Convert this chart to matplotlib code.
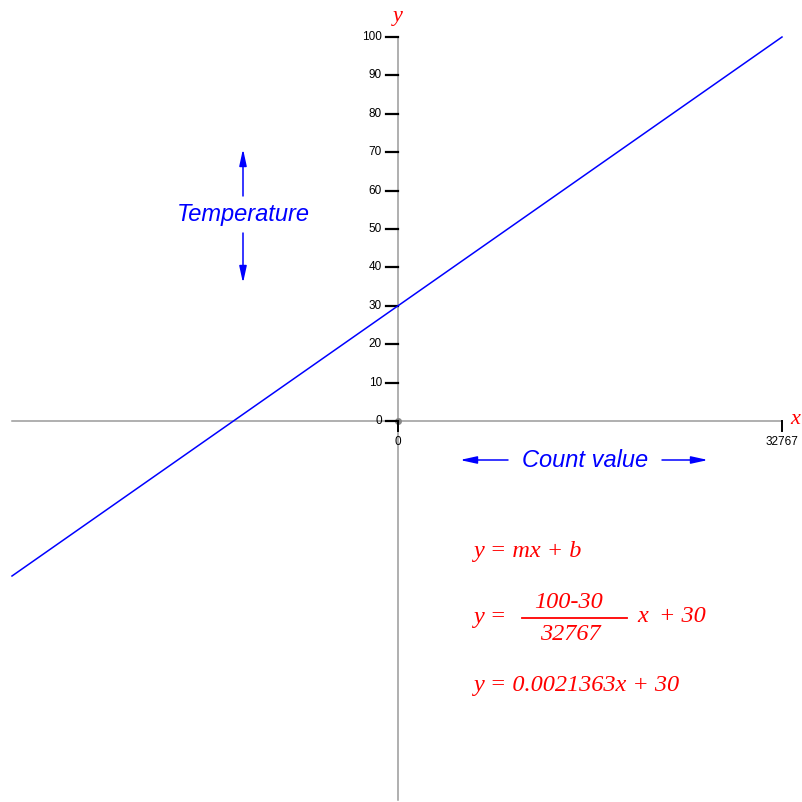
import numpy as np
import matplotlib
matplotlib.use("Agg")
import matplotlib.pyplot as plt

# data
x_max = 32767
y_lo, y_hi = 30, 100
slope = (y_hi - y_lo) / x_max
y_ticks = [0, 10, 20, 30, 40, 50, 60, 70, 80, 90, 100]
x_ticks = [0, 32767]
x_line = np.array([-32938, x_max])
y_line = slope * x_line + y_lo

W = 802
# pixel layout: origin at (398, 421), 384 px per x_max and per 100 units of y
ox, oy = 398, 421
sx = 384 / x_max
sy = 3.84

fig = plt.figure(figsize=(W / 100, W / 100), dpi=100)
ax = fig.add_axes([0, 0, 1, 1])
ax.set_xlim(-ox / sx, (W - ox) / sx)
ax.set_ylim((oy - W) / sy, oy / sy)
ax.axis("off")


def P(px, py):
    # pixel position -> data coordinates (for placing labels)
    return (px - ox) / sx, (oy - py) / sy


grey = "#9a9a9a"
# axes lines
ax.plot([P(12, 0)[0], x_max], [0, 0], color=grey, lw=1.1, zorder=1)
ax.plot([0, 0], [P(0, 800)[1], 100], color=grey, lw=1.1, zorder=1)
ax.plot(0, 0, "o", color="#888888", ms=4, zorder=2)

sans = "Liberation Sans"
serif = "Liberation Serif"

# y ticks
tlen = 12 / sx
for t in y_ticks:
    ax.plot([-tlen, 0], [t, t], color="black", lw=1.6, zorder=3)
    ax.text(-16 / sx, t, str(t), ha="right", va="center", fontsize=8.5, family=sans)

# x ticks
for t in x_ticks:
    ax.plot([t, t], [0, -10 / sy], color="black", lw=1.4, zorder=3)
    ax.text(t, -21 / sy, str(t), ha="center", va="center", fontsize=8.5, family=sans)

# axis names
ax.text(*P(398, 16), "y", color="red", fontsize=16, family=serif, style="italic",
        ha="center", va="center")
ax.text(*P(795, 419), "x", color="red", fontsize=16, family=serif, style="italic",
        ha="center", va="center")

# the line
ax.plot(x_line, y_line, color="blue", lw=1.1, zorder=4)

# Temperature label with arrows
ax.text(*P(243, 214), "Temperature", color="blue", fontsize=17, family=sans,
        style="italic", ha="center", va="center")
arr = dict(arrowstyle="-|>,head_length=1.0,head_width=0.22", color="blue", lw=1.1,
           shrinkA=0, shrinkB=0)
ax.annotate("", xy=P(243, 149), xytext=P(243, 196), arrowprops=arr)
ax.annotate("", xy=P(243, 283), xytext=P(243, 233), arrowprops=arr)

# Count value label with arrows
ax.text(*P(585, 460), "Count value", color="blue", fontsize=17, family=sans,
        style="italic", ha="center", va="center")
ax.annotate("", xy=P(460, 460), xytext=P(508, 460), arrowprops=arr)
ax.annotate("", xy=P(708, 460), xytext=P(662, 460), arrowprops=arr)

# equations
eq = dict(color="red", fontsize=17.5, family=serif, style="italic", va="center")
ax.text(*P(473, 552), "y = mx + b", ha="left", **eq)
ax.text(*P(473, 618), "y =", ha="left", **eq)
ax.text(*P(569, 603), f"{y_hi}-{y_lo}", ha="center", **eq)
ax.plot([P(522, 0)[0], P(627, 0)[0]], [P(0, 618)[1]] * 2, color="red", lw=1.3)
ax.text(*P(570, 635), f"{x_max}", ha="center", **eq)
ax.text(*P(637, 617), "x", ha="left", **eq)
ax.text(*P(659, 617), f"+ {y_lo}", ha="left", **eq)
ax.text(*P(473, 686), f"y = {slope:.7f}x + {y_lo}", ha="left", **eq)

fig.savefig("out.png", dpi=100)
